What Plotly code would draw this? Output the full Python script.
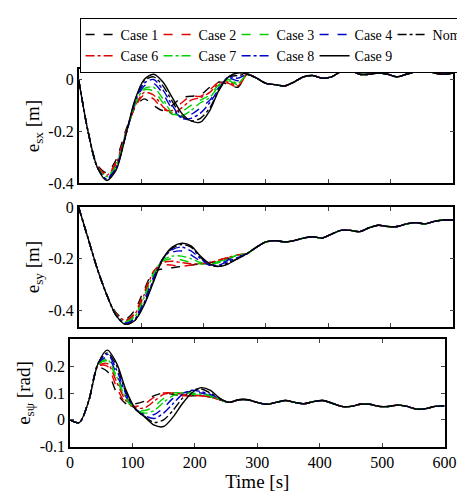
import plotly.graph_objects as go

t_early = [0, 15, 30, 45, 60, 75, 90, 105, 120, 135, 150, 165, 180, 195, 210, 225, 240, 255]
t_tail = [270, 285, 300, 315, 330, 345, 360, 375, 390, 405, 420, 435, 450, 465, 480, 495, 510, 525, 540, 555, 570, 585, 600]

cases = ["Case 1", "Case 2", "Case 3", "Case 4", "Nominal", "Case 6", "Case 7", "Case 8", "Case 9"]

esx = {
    "Case 1": [0, -0.2, -0.33, -0.36, -0.31, -0.2, -0.11, -0.075, -0.1, -0.12, -0.1, -0.07, -0.065, -0.06, -0.03, -0.01, -0.02, -0.03],
    "Case 2": [0, -0.2, -0.335, -0.365, -0.32, -0.21, -0.11, -0.06, -0.075, -0.115, -0.12, -0.09, -0.065, -0.065, -0.04, -0.01, -0.015, -0.03],
    "Case 3": [0, -0.2, -0.335, -0.375, -0.33, -0.215, -0.1, -0.04, -0.045, -0.09, -0.135, -0.125, -0.1, -0.08, -0.06, -0.02, -0.005, -0.02],
    "Case 4": [0, -0.2, -0.34, -0.38, -0.34, -0.22, -0.095, -0.025, -0.015, -0.055, -0.115, -0.145, -0.135, -0.11, -0.08, -0.03, 0.005, -0.005],
    "Nominal": [0, -0.2, -0.34, -0.385, -0.345, -0.22, -0.085, -0.005, 0.01, -0.025, -0.085, -0.14, -0.16, -0.15, -0.11, -0.04, 0.01, 0.015],
    "Case 6": [0, -0.2, -0.335, -0.37, -0.325, -0.21, -0.105, -0.05, -0.06, -0.105, -0.13, -0.11, -0.08, -0.07, -0.05, -0.015, -0.01, -0.025],
    "Case 7": [0, -0.2, -0.34, -0.375, -0.335, -0.215, -0.1, -0.035, -0.03, -0.075, -0.13, -0.14, -0.12, -0.09, -0.07, -0.025, 0.0, -0.015],
    "Case 8": [0, -0.2, -0.34, -0.385, -0.34, -0.22, -0.09, -0.015, 0.0, -0.04, -0.1, -0.15, -0.15, -0.13, -0.09, -0.035, 0.01, 0.005],
    "Case 9": [0, -0.2, -0.34, -0.39, -0.35, -0.22, -0.08, 0.0, 0.02, -0.01, -0.07, -0.13, -0.16, -0.165, -0.12, -0.04, 0.01, 0.025],
}
esx_tail = [0.02, 0.005, -0.015, -0.02, -0.025, -0.01, 0.01, 0.015, 0.005, 0.01, 0.03, 0.035, 0.02, 0.02, 0.025, 0.02, 0.01, 0.02, 0.03, 0.035, 0.025, 0.02, 0.025]

esy = {
    "Case 1": [0, -0.12, -0.24, -0.34, -0.41, -0.435, -0.4, -0.32, -0.25, -0.24, -0.235, -0.23, -0.225, -0.22, -0.215, -0.21, -0.2, -0.19],
    "Case 2": [0, -0.12, -0.24, -0.34, -0.415, -0.44, -0.41, -0.33, -0.25, -0.225, -0.225, -0.23, -0.225, -0.22, -0.215, -0.205, -0.195, -0.185],
    "Case 3": [0, -0.12, -0.24, -0.34, -0.415, -0.445, -0.42, -0.345, -0.255, -0.21, -0.2, -0.205, -0.215, -0.22, -0.22, -0.21, -0.2, -0.185],
    "Case 4": [0, -0.12, -0.24, -0.34, -0.42, -0.45, -0.43, -0.36, -0.27, -0.2, -0.175, -0.17, -0.185, -0.21, -0.225, -0.22, -0.205, -0.19],
    "Nominal": [0, -0.12, -0.24, -0.34, -0.42, -0.455, -0.44, -0.375, -0.285, -0.2, -0.16, -0.145, -0.155, -0.195, -0.225, -0.23, -0.215, -0.2],
    "Case 6": [0, -0.12, -0.24, -0.34, -0.415, -0.44, -0.415, -0.34, -0.25, -0.215, -0.21, -0.215, -0.22, -0.22, -0.215, -0.205, -0.195, -0.185],
    "Case 7": [0, -0.12, -0.24, -0.34, -0.42, -0.445, -0.425, -0.35, -0.26, -0.205, -0.19, -0.19, -0.2, -0.215, -0.22, -0.215, -0.2, -0.185],
    "Case 8": [0, -0.12, -0.24, -0.34, -0.42, -0.45, -0.435, -0.37, -0.28, -0.2, -0.165, -0.155, -0.17, -0.2, -0.225, -0.225, -0.21, -0.195],
    "Case 9": [0, -0.12, -0.24, -0.34, -0.42, -0.455, -0.44, -0.38, -0.29, -0.2, -0.155, -0.14, -0.15, -0.19, -0.22, -0.23, -0.22, -0.2],
}
esy_tail = [-0.18, -0.155, -0.135, -0.13, -0.135, -0.13, -0.12, -0.115, -0.12, -0.105, -0.09, -0.09, -0.095, -0.08, -0.07, -0.075, -0.075, -0.065, -0.06, -0.065, -0.055, -0.05, -0.05]

espsi = {
    "Case 1": [0, -0.01, 0.07, 0.195, 0.18, 0.1, 0.06, 0.06, 0.07, 0.09, 0.1, 0.095, 0.09, 0.09, 0.09, 0.085, 0.075, 0.065],
    "Case 2": [0, -0.01, 0.07, 0.2, 0.2, 0.12, 0.06, 0.05, 0.06, 0.085, 0.1, 0.1, 0.09, 0.09, 0.09, 0.085, 0.075, 0.065],
    "Case 3": [0, -0.01, 0.07, 0.205, 0.22, 0.15, 0.075, 0.04, 0.035, 0.05, 0.08, 0.1, 0.1, 0.095, 0.09, 0.085, 0.075, 0.065],
    "Case 4": [0, -0.01, 0.07, 0.205, 0.235, 0.17, 0.085, 0.04, 0.02, 0.02, 0.045, 0.08, 0.1, 0.105, 0.1, 0.09, 0.075, 0.065],
    "Nominal": [0, -0.01, 0.07, 0.21, 0.25, 0.2, 0.1, 0.04, 0.012, -0.01, 0.0, 0.035, 0.08, 0.11, 0.115, 0.1, 0.08, 0.065],
    "Case 6": [0, -0.01, 0.07, 0.2, 0.21, 0.14, 0.07, 0.045, 0.045, 0.07, 0.095, 0.1, 0.095, 0.09, 0.09, 0.085, 0.075, 0.065],
    "Case 7": [0, -0.01, 0.07, 0.205, 0.225, 0.16, 0.08, 0.04, 0.025, 0.035, 0.065, 0.09, 0.1, 0.1, 0.095, 0.09, 0.075, 0.065],
    "Case 8": [0, -0.01, 0.07, 0.21, 0.245, 0.185, 0.095, 0.04, 0.015, 0.005, 0.025, 0.06, 0.095, 0.11, 0.105, 0.095, 0.078, 0.065],
    "Case 9": [0, -0.01, 0.07, 0.21, 0.26, 0.21, 0.11, 0.04, 0.01, -0.02, -0.025, 0.01, 0.06, 0.1, 0.12, 0.11, 0.08, 0.065],
}
espsi_tail = [0.075, 0.075, 0.065, 0.058, 0.065, 0.072, 0.065, 0.06, 0.068, 0.072, 0.062, 0.05, 0.05, 0.058, 0.058, 0.05, 0.05, 0.055, 0.05, 0.04, 0.042, 0.05, 0.052]

colors = {"Case 1": "black", "Case 2": "#e00000", "Case 3": "#00d000", "Case 4": "#0000c8",
          "Nominal": "black", "Case 6": "#e00000", "Case 7": "#00d000", "Case 8": "#0000c8", "Case 9": "black"}
dashes = {"Case 1": "dash", "Case 2": "dash", "Case 3": "dash", "Case 4": "dash",
          "Nominal": "dashdot", "Case 6": "dashdot", "Case 7": "dashdot", "Case 8": "dashdot", "Case 9": "solid"}

FONT = "Liberation Serif, Times New Roman, serif"
fig = go.Figure()
t_all = t_early + t_tail
for data, tail, xa, ya in [(esx, esx_tail, "x", "y"), (esy, esy_tail, "x2", "y2"), (espsi, espsi_tail, "x3", "y3")]:
    for c in cases:
        fig.add_trace(go.Scatter(
            x=t_all, y=data[c] + tail, mode="lines", name=c, xaxis=xa, yaxis=ya,
            showlegend=(xa == "x"), line=dict(color=colors[c], dash=dashes[c], width=1.4, shape="spline", smoothing=0.8)))

H = 493
W = 465
ax = dict(showline=True, linecolor="black", linewidth=1.5, mirror="ticks", ticks="inside", ticklen=4,
          showgrid=False, zeroline=False, tickfont=dict(family=FONT, size=16, color="black"))
fig.update_layout(
    width=W, height=H, margin=dict(l=0, r=0, t=0, b=0),
    plot_bgcolor="white", paper_bgcolor="white",
    font=dict(family=FONT, size=16, color="black"),
    xaxis=dict(ax, domain=[69/W, 457/W], range=[0, 600], dtick=100, showticklabels=False, anchor="y"),
    yaxis=dict(ax, domain=[1-173/H, 1-55/H], range=[-0.4, 0.04], tickvals=[-0.4, -0.2, 0], ticktext=["-0.4", "-0.2", "0"],
               title=dict(text="e<sub>sx</sub> [m]", font=dict(size=19), standoff=4), anchor="x"),
    xaxis2=dict(ax, domain=[69/W, 457/W], range=[0, 600], dtick=100, showticklabels=False, anchor="y2"),
    yaxis2=dict(ax, domain=[1-322/H, 1-198/H], range=[-0.465, 0], tickvals=[-0.4, -0.2, 0], ticktext=["-0.4", "-0.2", "0"],
                title=dict(text="e<sub>sy</sub> [m]", font=dict(size=19), standoff=4), anchor="x2"),
    xaxis3=dict(ax, domain=[60/W, 448/W], range=[0, 600], dtick=100, anchor="y3",
                title=dict(text="Time [s]", font=dict(size=19), standoff=2)),
    yaxis3=dict(ax, domain=[1-446/H, 1-335/H], range=[-0.1, 0.3], tickvals=[-0.1, 0, 0.1, 0.2], ticktext=["-0.1", "0", "0.1", "0.2"],
                title=dict(text="e<sub>sψ</sub> [rad]", font=dict(size=19), standoff=4), anchor="x3"),
    legend=dict(orientation="h", x=70/W, y=1-2/H, xanchor="left", yanchor="top",
                bordercolor="black", borderwidth=1, bgcolor="white",
                font=dict(family=FONT, size=14), entrywidth=33, entrywidthmode="pixels",
                tracegroupgap=0, itemwidth=30),
)
fig.write_html("out.html")
